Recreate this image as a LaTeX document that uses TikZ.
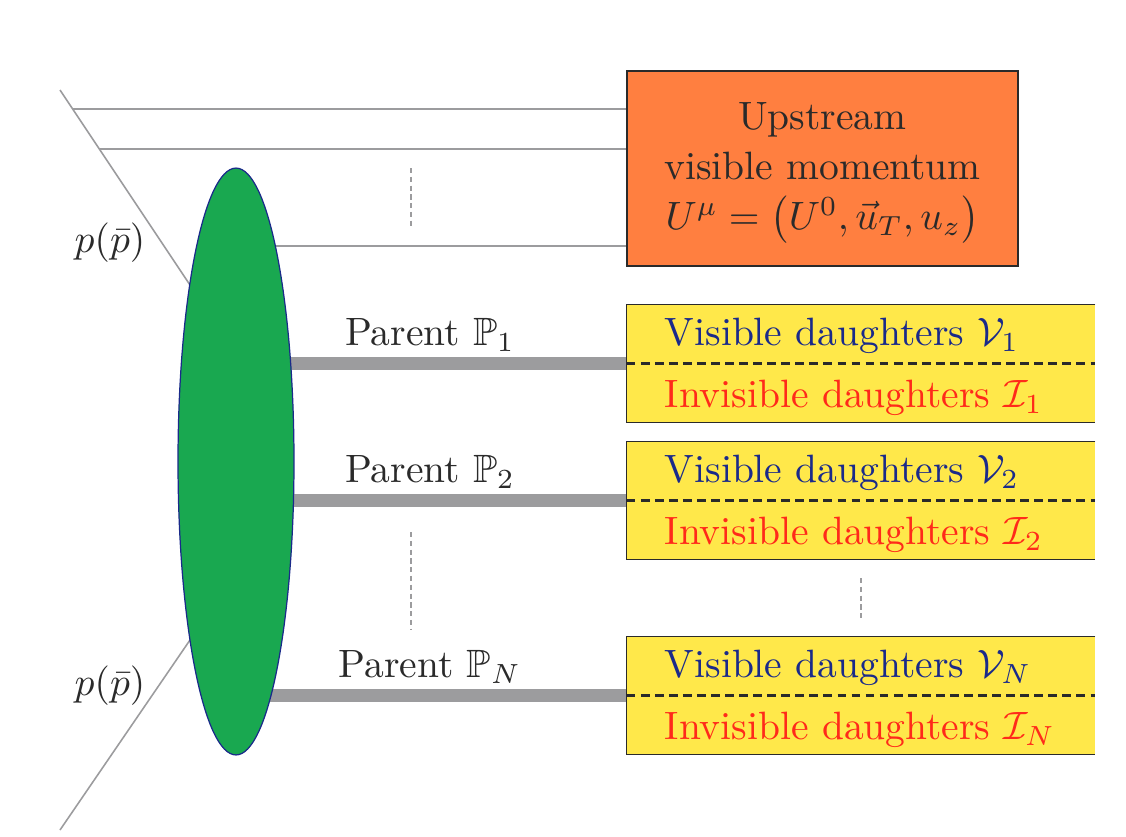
\documentclass[tikz,border=0pt]{standalone}
\usepackage{amsmath,amssymb}
\usetikzlibrary{shapes.geometric,backgrounds}
\definecolor{blobgreen}{HTML}{19A850}
\definecolor{uporange}{HTML}{FF7F40}
\definecolor{boxyellow}{HTML}{FFE84A}
\definecolor{lightgray}{HTML}{9C9C9E}
\definecolor{textgray}{HTML}{2A2A2A}
\definecolor{visblue}{HTML}{1A2A8A}
\definecolor{invred}{HTML}{FF2A1A}

\begin{document}
\begin{tikzpicture}[x=0.02cm,y=-0.02cm,
  every node/.style={font=\fontsize{10}{12.6}\selectfont,text=textgray},
  big text/.style={scale=2.25,inner sep=0pt},
  blob/.style={ellipse,draw=visblue,line width=0.7pt,fill=blobgreen,
    minimum width=2.32cm,minimum height=11.74cm,inner sep=0pt},
  upstream box/.style={draw=textgray,line width=0.8pt,fill=uporange,
    minimum width=7.82cm,minimum height=3.9cm,inner sep=0pt},
  daughter box/.style={fill=boxyellow,minimum width=9.36cm,
    minimum height=2.34cm,inner sep=0pt},
  box edge/.style={draw=textgray,line width=0.8pt},
  split line/.style={draw=textgray,line width=1.3pt,dash pattern=on 5pt off 3pt},
  thin line/.style={draw=lightgray,line width=0.9pt},
  parent line/.style={draw=lightgray,line width=7.5pt},
  dots line/.style={draw=lightgray,line width=0.9pt,dash pattern=on 3pt off 2pt},
  ]
  \useasboundingbox (0,0) rectangle (1126,836);

  \node[blob] (blob) at (236,461.5) {};
  \node[upstream box] (up) at (822.5,168.5) {};
  \node[big text,align=center] (upText) at (822.5,173)
    {Upstream\\visible momentum\\$U^\mu=\bigl(U^0,\vec{u}_T,u_z\bigr)$};

  % beams
  \coordinate (beamA) at (60,90);
  \coordinate (beamB) at (190,285);
  \coordinate (beamC) at (60,830);
  \coordinate (beamD) at (190,640);
  \path (beamA) -- (beamB) coordinate[pos=0.0974] (u1) coordinate[pos=0.3026] (u2);
  \coordinate (u3) at (236,246);
  \begin{scope}[on background layer]
    \draw[thin line] (beamA) -- (beamB);
    \draw[thin line] (beamC) -- (beamD);
    \draw[thin line] (u1) -- (up.west |- u1);
    \draw[thin line] (u2) -- (up.west |- u2);
    \draw[thin line] (u3) -- (up.west |- u3);
  \end{scope}
  \node[big text] (pUp) at (110,243) {$p(\bar p)$};
  \node[big text] (pDown) at (110,686) {$p(\bar p)$};

  % parents and daughters
  \foreach \i/\y in {1/363.5,2/500.5,N/695.5}{
    \node[daughter box] (box\i) at (861,\y) {};
    \draw[box edge] (box\i.north east) -- (box\i.north west)
      -- (box\i.south west) -- (box\i.south east);
    \draw[split line] (box\i.west) -- (box\i.east);
    \node[big text,anchor=base west,text=visblue] (vis\i) at (664,\y-18)
      {Visible daughters $\mathcal{V}_{\i}$};
    \node[big text,anchor=base west,text=invred] (inv\i) at (664,\y+44)
      {Invisible daughters $\mathcal{I}_{\i}$};
    \begin{scope}[on background layer]
      \draw[parent line] (blob.center |- box\i.west) -- (box\i.west);
    \end{scope}
    \node[big text,anchor=base] (par\i) at (430,\y-18) {Parent $\mathbb{P}_{\i}$};
  };

  \draw[dots line] (411,168) -- (411,228);
  \draw[dots line] (411,532) -- (411,630);
  \draw[dots line] (861,578) -- (861,618);
\end{tikzpicture}
\end{document}
